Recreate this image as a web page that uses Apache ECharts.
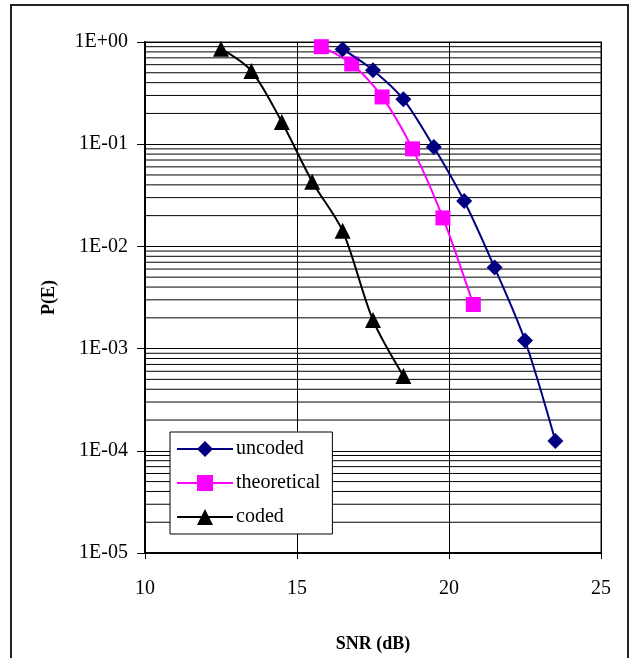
<!DOCTYPE html>
<html>
<head>
<meta charset="utf-8">
<script src="https://cdn.jsdelivr.net/npm/echarts@6/dist/echarts.min.js"></script>
<style>
  html, body { margin: 0; padding: 0; background: #fff; }
  #main { width: 634px; height: 658px; }
</style>
</head>
<body>
<div id="main"></div>
<script>
// data
var uncodedX = [16.5, 17.5, 18.5, 19.5, 20.5, 21.5, 22.5, 23.5];
var uncodedY = [0.85, 0.53, 0.275, 0.094, 0.0278, 0.0062, 0.0012, 0.000125];
var theoX = [15.8, 16.8, 17.8, 18.8, 19.8, 20.8];
var theoY = [0.9, 0.61, 0.29, 0.09, 0.019, 0.0027];
var codedX = [12.5, 13.5, 14.5, 15.5, 16.5, 17.5, 18.5];
var codedY = [0.86, 0.52, 0.165, 0.043, 0.0142, 0.0019, 0.00054];

function pairs(xs, ys) {
  var out = [];
  for (var i = 0; i < xs.length; i++) out.push([xs[i], ys[i]]);
  return out;
}

// minor gridlines 2..9 per decade, drawn as broken line segments
var minorLines = [];
for (var e = -5; e < 0; e++) {
  for (var m = 2; m <= 9; m++) {
    var v = m * Math.pow(10, e);
    minorLines.push([10, v], [25, v], [10, '-']);
  }
}

var serif = '"Liberation Serif", "DejaVu Serif", serif';
var chart = echarts.init(document.getElementById('main'));

var option = {
  animation: false,
  backgroundColor: '#fff',
  textStyle: { fontFamily: serif },
  grid: { left: 145, top: 42, width: 456, height: 511, show: true, borderColor: '#888', borderWidth: 2 },
  graphic: [
    { type: 'rect', shape: { x: 11, y: 5, width: 617, height: 660 },
      style: { fill: 'none', stroke: '#222', lineWidth: 2 }, z: -1 }
  ],
  xAxis: {
    type: 'value', min: 10, max: 25, interval: 5,
    name: 'SNR (dB)', nameLocation: 'middle', nameGap: 82,
    nameTextStyle: { fontFamily: serif, fontSize: 18, fontWeight: 'bold', color: '#000' },
    axisLine: { show: true, onZero: false, lineStyle: { color: '#000', width: 2 } },
    axisTick: { show: true, length: 6, lineStyle: { color: '#000' } },
    axisLabel: { fontFamily: serif, fontSize: 20, color: '#000', margin: 26 },
    splitLine: { show: true, lineStyle: { color: '#000', width: 1 } }
  },
  yAxis: {
    type: 'log', logBase: 10, min: 1e-5, max: 1,
    name: 'P(E)', nameLocation: 'middle', nameGap: 87, nameRotate: 90,
    nameTextStyle: { fontFamily: serif, fontSize: 18, fontWeight: 'bold', color: '#000' },
    axisLine: { show: true, lineStyle: { color: '#000', width: 2 } },
    axisTick: { show: true, length: 8, lineStyle: { color: '#000' } },
    axisLabel: {
      fontFamily: serif, fontSize: 20, color: '#000', margin: 17,
      formatter: function (v) {
        var ex = Math.round(Math.log10(v));
        var s = Math.abs(ex) < 10 ? '0' + Math.abs(ex) : '' + Math.abs(ex);
        return '1E' + (ex < 0 ? '-' : '+') + s;
      }
    },
    splitLine: { show: true, lineStyle: { color: '#000', width: 1 } }
  },
  legend: {
    left: 170, top: 432, orient: 'vertical',
    itemGap: 14, itemWidth: 56, itemHeight: 20,
    padding: [7, 12, 7, 6],
    backgroundColor: '#fff', borderColor: '#000', borderWidth: 1,
    textStyle: { fontFamily: serif, fontSize: 20, color: '#000', padding: [0, 0, 0, -2] },
    data: ['uncoded', 'theoretical', 'coded']
  },
  series: [
    {
      name: 'grid-minor', type: 'line', silent: true,
      data: minorLines, connectNulls: false,
      symbol: 'none', showSymbol: false,
      lineStyle: { color: '#000', width: 1 }, z: 1
    },
    {
      name: 'uncoded', type: 'line', smooth: 0.3, data: pairs(uncodedX, uncodedY),
      symbol: 'diamond', symbolSize: 16,
      lineStyle: { color: '#000080', width: 2 }, itemStyle: { color: '#000080' }, z: 4
    },
    {
      name: 'theoretical', type: 'line', smooth: 0.3, data: pairs(theoX, theoY),
      symbol: 'rect', symbolSize: 15,
      lineStyle: { color: '#ff00ff', width: 2 }, itemStyle: { color: '#ff00ff' }, z: 3
    },
    {
      name: 'coded', type: 'line', smooth: 0.3, data: pairs(codedX, codedY),
      symbol: 'triangle', symbolSize: 16,
      lineStyle: { color: '#000', width: 2 }, itemStyle: { color: '#000' }, z: 5
    }
  ]
};
chart.setOption(option);
</script>
</body>
</html>
